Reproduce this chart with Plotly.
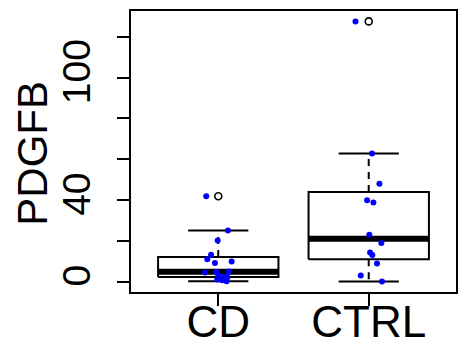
import numpy as np
import plotly.graph_objects as go

# ---- data ----
categories = ["CD", "CTRL"]
cd_values = [41.8, 25.0, 20.1, 13.2, 11.0, 9.9, 9.1, 4.9, 4.7, 4.5, 3.0, 2.4, 2.0, 1.0, 0.6, 0.2]
cd_jitter = [-0.08, 0.064, -0.004, -0.048, -0.073, 0.089, -0.022, 0.071, -0.013, -0.088,
             0.0, 0.038, 0.06, -0.007, 0.026, 0.055]
ctrl_values = [127.5, 62.8, 48.0, 39.8, 38.8, 23.0, 18.9, 14.3, 13.0, 8.9, 3.0, 0.0]
ctrl_jitter = [-0.088, 0.022, 0.071, -0.011, 0.031, 0.004, 0.084, 0.009, 0.024, 0.055, -0.053, 0.088]
y_tickvals = [0, 20, 40, 60, 80, 100, 120]
y_ticktext = ["0", "", "40", "", "", "100", ""]
y_title = "PDGFB"

groups = [cd_values, ctrl_values]
jitters = [cd_jitter, ctrl_jitter]


def fivenum(v):
    v = np.sort(np.asarray(v, float))
    n = len(v)
    n4 = np.floor((n + 3) / 2) / 2
    d = np.array([1, n4, (n + 1) / 2, n + 1 - n4, n]) - 1
    return 0.5 * (v[np.floor(d).astype(int)] + v[np.ceil(d).astype(int)])


BOXW = 0.8
STAPLE = 0.4
FONT = "Liberation Sans, Arial, sans-serif"

fig = go.Figure()
for i, vals in enumerate(groups):
    x0 = i + 1
    v = np.asarray(vals, float)
    _, q1, med, q3, _ = fivenum(v)
    iqr = q3 - q1
    hi = v[v <= q3 + 1.5 * iqr].max()
    lo = v[v >= q1 - 1.5 * iqr].min()
    out = v[(v > q3 + 1.5 * iqr) | (v < q1 - 1.5 * iqr)]
    # whiskers (dashed)
    fig.add_trace(go.Scatter(x=[x0, x0, None, x0, x0], y=[q3, hi, None, q1, lo], mode="lines",
                             line=dict(color="black", width=2, dash="7px,6px"), hoverinfo="skip"))
    # staples
    fig.add_trace(go.Scatter(x=[x0 - STAPLE / 2, x0 + STAPLE / 2, None, x0 - STAPLE / 2, x0 + STAPLE / 2],
                             y=[hi, hi, None, lo, lo], mode="lines",
                             line=dict(color="black", width=2), hoverinfo="skip"))
    # box
    fig.add_trace(go.Scatter(x=[x0 - BOXW / 2, x0 + BOXW / 2, x0 + BOXW / 2, x0 - BOXW / 2, x0 - BOXW / 2],
                             y=[q1, q1, q3, q3, q1], mode="lines",
                             line=dict(color="black", width=2), hoverinfo="skip"))
    # median
    fig.add_trace(go.Scatter(x=[x0 - BOXW / 2, x0 + BOXW / 2], y=[med, med], mode="lines",
                             line=dict(color="black", width=6), hoverinfo="skip"))
    # outliers
    if len(out):
        fig.add_trace(go.Scatter(x=[x0] * len(out), y=out, mode="markers",
                                 marker=dict(symbol="circle-open", size=7, color="black",
                                             line=dict(width=1.6, color="black")), hoverinfo="skip"))
    # jittered points
    fig.add_trace(go.Scatter(x=[x0 + j for j in jitters[i]], y=v, mode="markers",
                             marker=dict(color="#0000FF", size=6), hoverinfo="skip"))

allv = np.concatenate([np.asarray(g, float) for g in groups])
ymin, ymax = allv.min(), allv.max()
pad = 0.04 * (ymax - ymin)

axis_common = dict(showline=True, mirror=True, linewidth=2, linecolor="black",
                   ticks="outside", ticklen=12, tickwidth=2, tickcolor="black",
                   showgrid=False, zeroline=False, automargin=False)

fig.update_layout(
    width=458, height=345,
    margin=dict(l=131, r=2, t=11, b=53),
    plot_bgcolor="white", paper_bgcolor="white",
    showlegend=False,
    hovermode=False,
    xaxis=dict(range=[0.42, 2.58], tickvals=[1, 2], ticktext=categories,
               ticklabelstandoff=-22,
               tickfont=dict(family=FONT, size=44, color="black"), **axis_common),
    yaxis=dict(range=[ymin - pad, ymax + pad], tickvals=y_tickvals, ticktext=y_ticktext,
               tickangle=-90, ticklabelstandoff=11,
               tickfont=dict(family=FONT, size=39, color="black"),
               **axis_common),
    annotations=[dict(text=y_title, xref="paper", yref="paper", x=-0.303, y=0.494,
                      xanchor="center", yanchor="middle", textangle=-90, showarrow=False,
                      font=dict(family=FONT, size=42, color="black"))],
)

fig.write_html("out.html", config={"displayModeBar": False, "staticPlot": True},
               post_script="document.body.style.margin='0';")
